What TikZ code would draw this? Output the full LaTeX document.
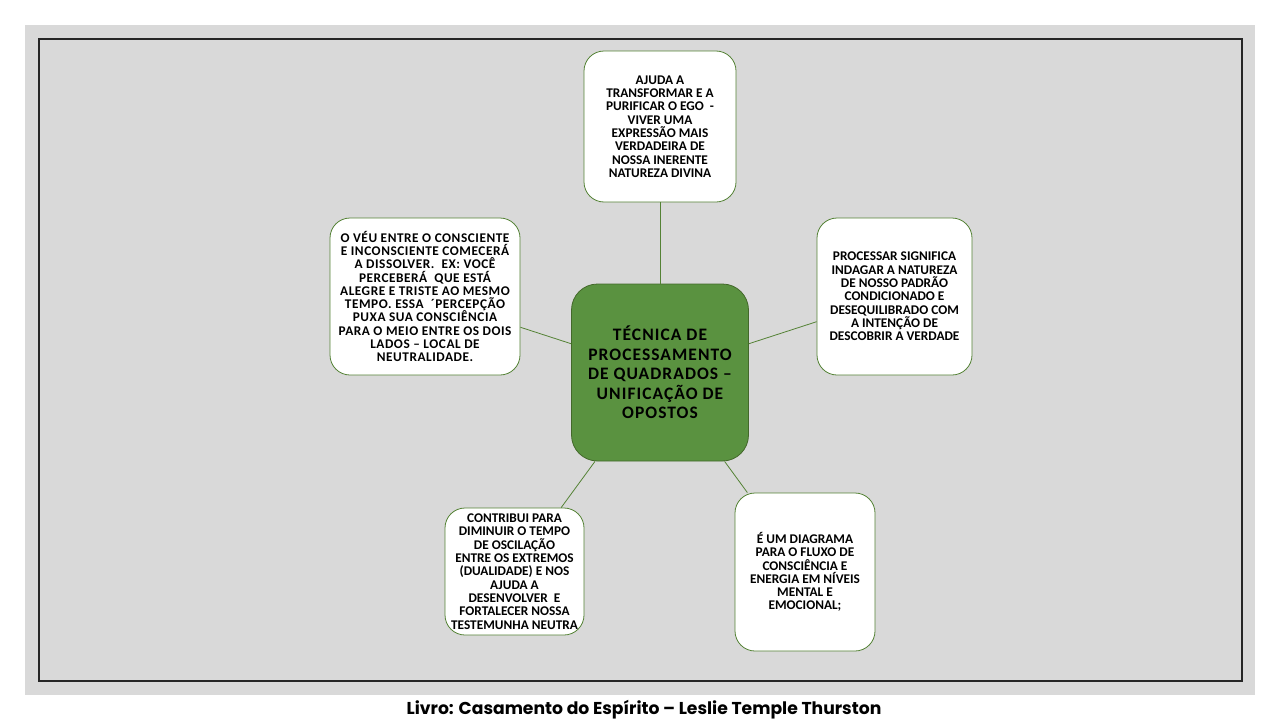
\documentclass[tikz,border=0pt]{standalone}
\usepackage{fontspec}
\setmainfont{Carlito}
\newfontfamily\capfont{Poppins}
\newfontfamily\boxfont{Carlito}
\newfontfamily\wideboxfont[LetterSpace=4]{Carlito}
\newfontfamily\ctrfont[LetterSpace=6]{Carlito}
\definecolor{bggray}{RGB}{217,217,217}
\definecolor{lgreen}{RGB}{84,130,53}
\definecolor{cgreen}{RGB}{90,146,64}
\begin{document}
\begin{tikzpicture}[x=1pt,y=-1pt,
  leaf/.style={draw=lgreen,line width=0.8pt,fill=white,rounded corners=20pt,
    align=center,inner sep=0pt,font=\boxfont\bfseries\fontsize{13.3}{13.3}\selectfont},
  hub/.style={draw=lgreen!80!black,line width=0.8pt,fill=cgreen,rounded corners=26pt,
    align=center,inner sep=0pt,minimum width=177pt,minimum height=177pt,
    font=\ctrfont\bfseries\fontsize{17.5}{19.5}\selectfont},
  link/.style={draw=lgreen,line width=0.8pt}]
\useasboundingbox (0,0) rectangle (1280,720);
\fill[white] (0,0) rectangle (1280,720);
\fill[bggray] (25,25) rectangle (1255,695);
\draw[black!85,line width=1.2pt] (39,39) rectangle (1242,681);

\node[hub] (c) at (660,372.5) {TÉCNICA DE\\PROCESSAMENTO\\DE QUADRADOS –\\UNIFICAÇÃO DE\\OPOSTOS};

\node[leaf,minimum width=152pt,minimum height=151pt] (t) at (660,126.5)
  {AJUDA A\\TRANSFORMAR E A\\PURIFICAR O EGO \ -\\VIVER UMA\\EXPRESSÃO MAIS\\VERDADEIRA DE\\NOSSA INERENTE\\NATUREZA DIVINA};
\node[leaf,minimum width=190pt,minimum height=157pt,font=\wideboxfont\bfseries\fontsize{13.3}{13.3}\selectfont] (l) at (425,296.5)
  {O VÉU ENTRE O CONSCIENTE\\E INCONSCIENTE COMECERÁ\\A DISSOLVER. \ EX: VOCÊ\\PERCEBERÁ \ QUE ESTÁ\\ALEGRE E TRISTE AO MESMO\\TEMPO. ESSA \ ´PERCEPÇÃO\\PUXA SUA CONSCIÊNCIA\\PARA O MEIO ENTRE OS DOIS\\LADOS – LOCAL DE\\NEUTRALIDADE.};
\node[leaf,minimum width=155pt,minimum height=157pt] (r) at (894.5,296.5)
  {PROCESSAR SIGNIFICA\\INDAGAR A NATUREZA\\DE NOSSO PADRÃO\\CONDICIONADO E\\DESEQUILIBRADO COM\\A INTENÇÃO DE\\DESCOBRIR A VERDADE};
\node[leaf,minimum width=139pt,minimum height=127pt] (bl) at (514.5,571.5)
  {CONTRIBUI PARA\\DIMINUIR O TEMPO\\DE OSCILAÇÃO\\ENTRE OS EXTREMOS\\(DUALIDADE) E NOS\\AJUDA A\\DESENVOLVER \ E\\FORTALECER NOSSA\\TESTEMUNHA NEUTRA};
\node[leaf,minimum width=140pt,minimum height=158pt] (br) at (805,572)
  {É UM DIAGRAMA\\PARA O FLUXO DE\\CONSCIÊNCIA E\\ENERGIA EM NÍVEIS\\MENTAL E\\EMOCIONAL;};

\draw[link] (c) -- (t);
\draw[link] (c) -- (l);
\draw[link] (c) -- (r);
\draw[link] (c) -- (bl);
\draw[link] (c) -- (br);

\node[font=\capfont\bfseries\fontsize{17.2}{20}\selectfont,inner sep=0pt] (cap) at (644,710)
  {Livro: Casamento do Espírito – Leslie Temple Thurston};
\end{tikzpicture}
\end{document}
